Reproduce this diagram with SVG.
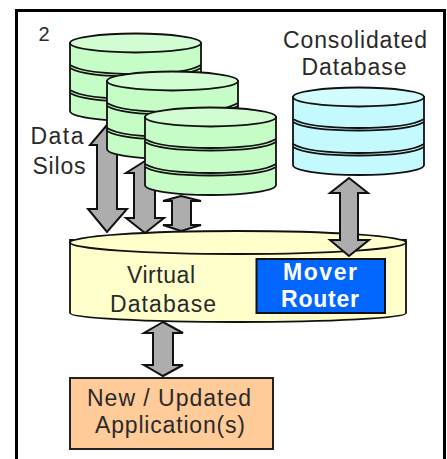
<svg xmlns="http://www.w3.org/2000/svg" width="447" height="459" viewBox="0 0 447 459">
<style>
text{font-family:"Liberation Sans",Arial,sans-serif;font-size:23px;fill:#2a2a2a;text-anchor:middle}
.ln{fill:none;stroke:#111;stroke-width:1.8}
.b{fill:var(--b);stroke:#111;stroke-width:1.8}
.t{fill:var(--t)}
.arrow{fill:#adadad;stroke:#111;stroke-width:2;stroke-linejoin:miter}
.g{--b:#c6fcc6;--t:#d2fdd2}
.c{--b:#c4fafd;--t:#d2fdfe}
.w{fill:#fff;font-weight:bold}
</style>
<defs>
<path id="body" class="b" d="M0 10V78C0 83.500 29 88 65.500 88S131 83.500 131 78V10Z"/>
<ellipse id="top" class="b t" cx="65.500" cy="10" rx="65.500" ry="9.500"/>
<path id="bands" class="ln" d="M0 32C10 38 30 41 65.500 41S121 38 131 32M0 35C10 41 30 43.500 65.500 43.500S121 41 131 35M0 57C10 63 30 66 65.500 66S121 63 131 57M0 60C10 66 30 68.500 65.500 68.500S121 66 131 60"/>
<g id="cyl"><use href="#body"/><use href="#top"/><use href="#bands"/></g>
</defs>
<rect x="16.500" y="10.500" width="428" height="452" fill="#fff" stroke="#000" stroke-width="3"/>
<g id="label-2"><text x="44" y="41" style="font-size:20px">2</text></g>
<g id="virtual-database">
<path d="M70 240V313C70 318 145 322 238 322S406 318 406 313V240Z" fill="#ffffcc" stroke="#111" stroke-width="1.800"/>
<ellipse cx="238" cy="242.500" rx="168" ry="11.500" fill="#ffffcc" stroke="#111" stroke-width="1.800"/>
<text x="161" y="283" textLength="68" lengthAdjust="spacing">Virtual</text>
<text x="163" y="312" textLength="106" lengthAdjust="spacing">Database</text>
</g>
<g id="connectors">
<path id="arrow-1" class="arrow" d="M107 125L90 145H97V209H88L107 232L127 209H117V145H124Z"/>
<path id="arrow-2" class="arrow" d="M145 161L126 173H134V218H126L145 233L164 218H155V173H164Z"/>
<path id="arrow-3" class="arrow" d="M181 196L163 201H172V225H163L181 231L201 225H191V201H201Z"/>
<path id="arrow-4" class="arrow" d="M349 178L330 193H340V240H330L349 256L369 240H358V193H368Z"/>
<path id="arrow-5" class="arrow" d="M163 322L144 333H153V365H144L163 376L183 365H173V333H183Z"/>
</g>
<g id="silo-1" class="g" transform="translate(70 33)"><use href="#cyl"/></g>
<g id="silo-2" class="g" transform="translate(107 71)"><use href="#cyl"/></g>
<g id="silo-3" class="g" transform="translate(145 107)"><use href="#cyl"/></g>
<g id="consolidated" class="c" transform="translate(293 87)"><use href="#cyl"/></g>
<g id="label-silos"><text x="57" y="144" textLength="53" lengthAdjust="spacing">Data</text><text x="59" y="174" textLength="53" lengthAdjust="spacing">Silos</text></g>
<g id="label-consolidated"><text x="355" y="48" textLength="144" lengthAdjust="spacing">Consolidated</text><text x="354" y="75" textLength="105" lengthAdjust="spacing">Database</text></g>
<g id="mover-router">
<rect x="256.500" y="259" width="128.500" height="54" fill="#0066ff" stroke="#111" stroke-width="2"/>
<text class="w" x="320" y="280" textLength="74" lengthAdjust="spacing">Mover</text>
<text class="w" x="320" y="307" textLength="78" lengthAdjust="spacing">Router</text>
</g>
<g id="application">
<rect x="70" y="378" width="203" height="71" fill="#ffcc99" stroke="#222" stroke-width="2"/>
<text x="169" y="406" textLength="164" lengthAdjust="spacing">New / Updated</text>
<text x="170" y="433" textLength="150" lengthAdjust="spacing">Application(s)</text>
</g>
</svg>
